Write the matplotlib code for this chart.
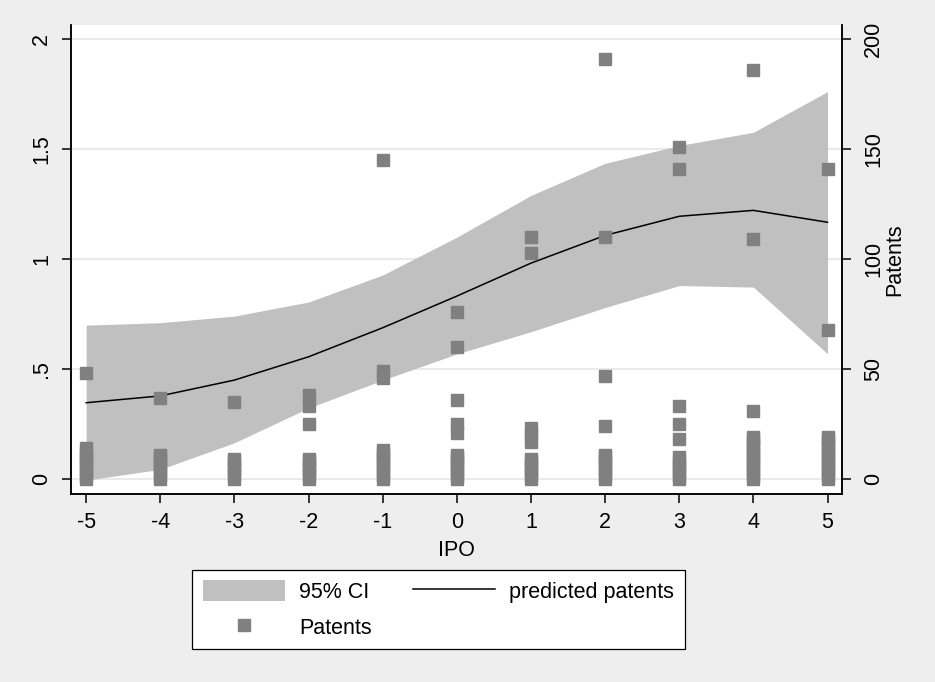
import numpy as np
import matplotlib.pyplot as plt
from matplotlib.patches import Patch
from matplotlib.lines import Line2D

plt.rcParams['font.family'] = ['Liberation Sans', 'DejaVu Sans']
plt.rcParams['font.size'] = 15.5

# predicted patents (left axis) with 95% CI, by year relative to IPO
ipo = [-5, -4, -3, -2, -1, 0, 1, 2, 3, 4, 5]
pred = [0.347, 0.378, 0.450, 0.556, 0.688, 0.832, 0.982, 1.108, 1.195, 1.222, 1.168]
ci_lo = [-0.005, 0.044, 0.165, 0.323, 0.450, 0.569, 0.670, 0.780, 0.880, 0.873, 0.570]
ci_hi = [0.700, 0.711, 0.741, 0.805, 0.928, 1.100, 1.290, 1.436, 1.517, 1.577, 1.762]

# observed patents (right axis), per IPO year
pat_m5 = [48, 0, 2, 4, 6, 8, 10, 12, 14]
pat_m4 = [37, 0, 2, 4, 6, 8, 10, 11]
pat_m3 = [35, 0, 2, 4, 6, 8, 9]
pat_m2 = [38, 33, 25, 0, 2, 4, 6, 8, 9]
pat_m1 = [145, 49, 46, 0, 2, 4, 6, 8, 10, 12, 13]
pat_0 = [76, 60, 36, 25, 21, 0, 2, 4, 6, 8, 10, 11]
pat_1 = [110, 103, 23, 20, 17, 0, 2, 4, 6, 8, 9]
pat_2 = [191, 110, 47, 24, 0, 2, 4, 6, 8, 10, 11]
pat_3 = [151, 141, 33, 25, 18, 0, 2, 4, 6, 8, 10]
pat_4 = [186, 109, 31, 0, 2, 4, 6, 8, 10, 12, 14, 16, 18, 19]
pat_5 = [141, 68, 0, 2, 4, 6, 8, 10, 12, 14, 16, 18, 19]
pat_by_year = [pat_m5, pat_m4, pat_m3, pat_m2, pat_m1, pat_0,
               pat_1, pat_2, pat_3, pat_4, pat_5]

pat_x = []
pat_y = []
for yr, vals in zip(ipo, pat_by_year):
    pat_x += [yr] * len(vals)
    pat_y += vals

bg = '#EEEEEE'
fig = plt.figure(figsize=(9.35, 6.82), dpi=100, facecolor=bg)
ax = fig.add_axes([0.0763, 0.2752, 0.8246, 0.6881])
ax.set_facecolor('white')

ax.fill_between(ipo, ci_lo, ci_hi, color='#C0C0C0', lw=0, zorder=2)
ax.plot(ipo, pred, color='black', lw=1.1, zorder=3)

ax2 = ax.twinx()
ax2.plot(pat_x, pat_y, ls='none', marker='s', ms=8.8, color='#808080',
         mec='#808080', zorder=4)

ax.set_xlim(-5.2, 5.2)
ax.set_ylim(-0.0696, 2.065)
ax2.set_ylim(-6.96, 206.5)

ax.set_xticks(ipo)
ax.set_xticklabels([str(v) for v in ipo])
ax.set_yticks([0, 0.5, 1, 1.5, 2])
ax.set_yticklabels(['0', '.5', '1', '1.5', '2'], rotation=90, va='center')
ax2.set_yticks([0, 50, 100, 150, 200])
ax2.set_yticklabels(['0', '50', '100', '150', '200'], rotation=90, va='center')

ax.grid(axis='y', color='#E6E6E6', lw=1.2)
ax.set_axisbelow(True)

for a in (ax, ax2):
    a.spines['top'].set_visible(False)
    for s in ('left', 'right', 'bottom'):
        a.spines[s].set_linewidth(1.1)
ax.tick_params(axis='both', length=6.5, width=1.1, labelsize=15.5)
ax.tick_params(axis='y', pad=7.5)
ax.tick_params(axis='x', pad=6)
ax2.tick_params(axis='y', length=6.5, width=1.1, pad=8.5, labelsize=15.5)

ax.set_xlabel('IPO', labelpad=5)
ax2.set_ylabel('Patents', labelpad=0)

handles = [
    Patch(facecolor='#C0C0C0', edgecolor='none', label='95% CI'),
    Line2D([], [], ls='none', marker='s', ms=8.5, color='#808080', label='Patents'),
    Line2D([], [], color='black', lw=1.1, label='predicted patents'),
]
leg = fig.legend(handles=handles, ncol=2, loc='center',
                 bbox_to_anchor=(0.469, 0.1063), frameon=True, fancybox=False,
                 edgecolor='black', framealpha=1, handlelength=3.8,
                 handleheight=1.1, handletextpad=0.65, columnspacing=1.95,
                 labelspacing=0.6, borderpad=0.5)
leg.get_frame().set_linewidth(0.9)

fig.savefig('out.png', dpi=100, facecolor=bg)
